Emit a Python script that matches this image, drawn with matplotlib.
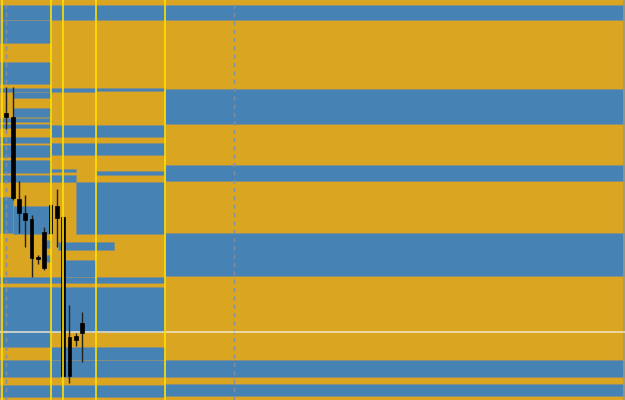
import matplotlib
matplotlib.use("Agg")
import matplotlib.pyplot as plt
from matplotlib.patches import Rectangle

GOLD = "#DAA520"
BLUE = "#4682B4"

# candles: bar index, open, high, low, close
bar_idx = [0, 1, 2, 3, 4, 5, 6, 7, 8, 9, 10, 11, 12]
opens = [1387, 1383, 1301, 1287, 1281, 1243, 1232, 1295, 1294, 1283, 1163, 1164, 1167]
highs = [1413, 1413, 1319, 1305, 1285, 1245, 1273, 1296, 1311, 1284, 1195, 1167, 1188]
lows = [1371, 1300, 1267, 1253, 1223, 1236, 1230, 1266, 1253, 1123, 1117, 1154, 1138]
closes = [1383, 1302, 1287, 1280, 1242, 1241, 1268, 1267, 1282, 1124, 1124, 1160, 1177]

# zones (blue) on gold background: start bar, end bar, top, bottom
zone_start = [-1, -1, -1, -1, 1.06, 1.06, -1, -1, -1, -1, -1, -1, -1, 1.06, 6.13, 6.13,
              -1, -1, -1, -1,
              7.08, 7.08, 7.08, 7.08, 7.08, 11.04, 8.19, 9.3, 7.08, 7.08, 7.08, 7.08, 7.08,
              14.2, 14.2, 14.2, 14.2,
              25.14, 25.14, 25.14, 25.14, 25.14]
zone_end = [98, 7.08, 7.08, 7.08, 7.08, 7.08, 7.08, 7.08, 7.08, 7.08, 7.08, 7.08, 1.06, 7.08, 7.08, 7.08,
            7.08, 7.08, 7.08, 7.08,
            14.2, 14.2, 14.2, 11.04, 11.04, 25.14, 17.06, 14.2, 25.14, 25.14, 25.14, 25.14, 25.14,
            25.14, 25.14, 25.14, 25.14,
            98, 98, 98, 98, 98]
zone_top = [1495, 1480, 1438, 1412, 1408, 1392, 1382, 1376, 1363, 1355, 1340, 1325, 1303, 1294, 1260, 1245,
            1223, 1213, 1140, 1115,
            1412, 1375, 1357, 1331, 1325, 1318, 1258, 1240, 1223, 1213, 1153, 1140, 1115,
            1412, 1375, 1357, 1329,
            1411, 1335, 1267, 1140, 1116]
zone_bot = [1480, 1457, 1416, 1408, 1402, 1383, 1378, 1372, 1357, 1343, 1327, 1318, 1267, 1266, 1252, 1238,
            1217, 1153, 1123, 1103,
            1408, 1363, 1345, 1328, 1318, 1266, 1250, 1223, 1217, 1168, 1140, 1123, 1103,
            1409, 1363, 1345, 1325,
            1376, 1319, 1224, 1123, 1104]

level_bars = [-0.68, 7.08, 8.98, 14.2, 25.14]
dashed_bars = [0, 36]
white_level = 1168
edge_bar = 97.8


def plot_chart():
    fig = plt.figure(figsize=(6.25, 4), dpi=100, facecolor=GOLD)
    ax = fig.add_axes([0, 0, 1, 1])
    ax.set_facecolor(GOLD)
    for x0, x1, top, bot in zip(zone_start, zone_end, zone_top, zone_bot):
        ax.add_patch(Rectangle((x0, bot), x1 - x0, top - bot, facecolor=BLUE,
                               edgecolor="#8a8f80", linewidth=0.6, zorder=1))
    for x in dashed_bars:
        ax.axvline(x, color="#7f8fa0", linewidth=1, linestyle=(0, (3, 3)), zorder=2)
    for x in level_bars:
        ax.axvline(x, color="#FFE000", linewidth=1.4, alpha=0.85, zorder=4)
    ax.axvline(edge_bar, color="#9a9a88", linewidth=1.5, alpha=0.8, zorder=2)
    ax.axhline(white_level, color="#F5EBD5", linewidth=1.2, alpha=0.85, zorder=2)
    for i, o, h, l, c in zip(bar_idx, opens, highs, lows, closes):
        ax.vlines(i, l, h, color="#222222", linewidth=1, zorder=3)
        ax.add_patch(Rectangle((i - 0.3, min(o, c)), 0.6, max(abs(c - o), 1),
                               facecolor="black", edgecolor="black", linewidth=0.5, zorder=3))
    ax.set_xlim(-1, 98)
    ax.set_ylim(1100, 1500)
    ax.set_xticks([])
    ax.set_yticks([])
    for s in ax.spines.values():
        s.set_visible(False)
    fig.savefig("out.png", facecolor=GOLD)
    plt.close(fig)


if __name__ == "__main__":
    plot_chart()
